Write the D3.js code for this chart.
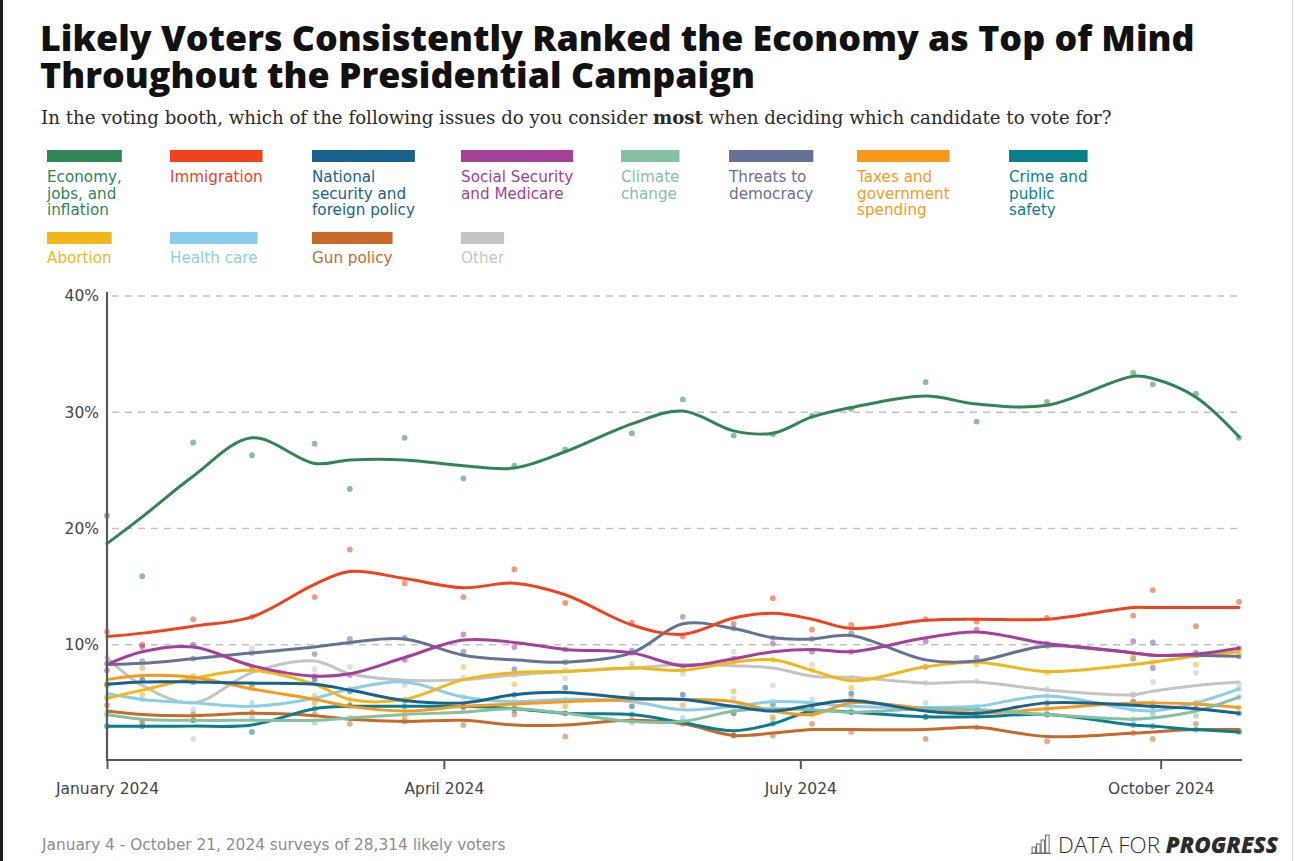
<!DOCTYPE html>
<html>
<head>
<meta charset="utf-8">
<script src="https://cdn.jsdelivr.net/npm/d3@7"></script>
<style>
  html, body { margin: 0; padding: 0; background: #ffffff; }
  svg { display: block; font-family: "DejaVu Sans", "Open Sans", sans-serif; }
</style>
</head>
<body>
<svg id="chart" width="1295" height="861"></svg>
<script>
// ---- Survey field dates (one per wave) ----
const surveyDates = ["2024-01-06","2024-01-15","2024-01-28","2024-02-12","2024-02-28","2024-03-08",
  "2024-03-22","2024-04-06","2024-04-19","2024-05-02","2024-05-19","2024-06-01","2024-06-14",
  "2024-06-24","2024-07-04","2024-07-14","2024-08-02","2024-08-15","2024-09-02","2024-09-24",
  "2024-09-29","2024-10-10","2024-10-21"];

// ---- Issue categories and colours ----
const categories = ["Economy, jobs, and inflation","Immigration","National security and foreign policy",
  "Social Security and Medicare","Climate change","Threats to democracy","Taxes and government spending",
  "Crime and public safety","Abortion","Health care","Gun policy","Other"];
const categoryColors = ["#2f8553","#f0421c","#17638d","#a4409a","#85c0a0","#667196","#f8991d",
  "#0a7f8c","#f1b719","#8acdea","#c8692a","#c4c4c4"];
const legendLines = [["Economy,","jobs, and","inflation"],["Immigration"],["National","security and","foreign policy"],
  ["Social Security","and Medicare"],["Climate","change"],["Threats to","democracy"],
  ["Taxes and","government","spending"],["Crime and","public","safety"],["Abortion"],["Health care"],
  ["Gun policy"],["Other"]];

// ---- Smoothed trend (%) at each survey date ----
const economyTrend     = [18.7,21.0,24.5,27.8,25.6,25.9,25.9,25.4,25.2,26.6,29.0,30.1,28.4,28.2,29.6,30.4,31.4,30.7,30.6,33.1,32.9,31.3,27.9];
const immigrationTrend = [10.7,11.0,11.6,12.4,15.2,16.3,15.7,14.9,15.3,14.3,11.7,10.9,12.3,12.7,12.2,11.4,12.1,12.2,12.2,13.2,13.2,13.2,13.2];
const natsecTrend      = [6.6,6.8,6.8,6.7,6.6,6.1,5.2,5.0,5.7,5.9,5.4,5.3,4.7,4.3,4.8,5.2,4.3,4.1,5.0,4.8,4.7,4.5,4.1];
const socsecTrend      = [8.3,9.4,9.8,8.2,7.3,7.5,8.9,10.4,10.2,9.6,9.3,8.2,8.8,9.4,9.6,9.4,10.6,11.1,10.1,9.3,9.1,9.2,9.7];
const climateTrend     = [4.0,3.6,3.5,3.5,3.5,3.7,4.0,4.2,4.5,4.1,3.4,3.4,4.3,4.5,4.4,4.2,4.5,4.4,4.0,3.6,3.7,4.3,5.5];
const threatsTrend     = [8.3,8.4,8.8,9.3,9.8,10.2,10.5,9.1,8.7,8.5,9.3,11.8,11.4,10.6,10.5,10.8,8.7,8.6,9.9,9.3,9.1,9.1,9.0];
const taxesTrend       = [7.0,7.35,7.2,6.2,5.3,4.7,4.3,4.7,4.9,5.1,5.3,5.3,5.1,4.3,4.0,5.0,4.5,4.1,4.5,5.0,5.0,4.9,4.6];
const crimeTrend       = [3.0,3.0,3.0,3.1,4.5,4.7,4.7,4.7,4.5,4.1,4.0,3.3,2.6,3.2,4.3,4.2,3.8,3.8,4.0,3.1,3.0,2.7,2.5];
const abortionTrend    = [5.4,6.1,7.1,7.8,6.6,5.3,5.3,7.0,7.6,7.7,8.0,7.8,8.5,8.7,7.8,6.9,8.1,8.5,7.7,8.3,8.5,9.0,9.4];
const healthTrend      = [5.8,5.3,5.0,4.7,5.4,6.2,6.8,5.5,5.1,5.3,5.1,4.4,4.7,5.1,5.0,4.7,4.6,4.7,5.6,4.4,4.3,5.0,6.2];
const gunTrend         = [4.3,4.0,3.9,4.1,3.9,3.6,3.4,3.5,3.1,3.1,3.5,3.2,2.2,2.4,2.7,2.7,2.7,2.9,2.1,2.4,2.5,2.7,2.7];
const otherTrend       = [8.9,6.5,5.0,7.6,8.6,7.5,6.95,7.0,7.4,7.7,8.0,8.3,8.2,8.0,7.3,7.2,6.7,6.8,6.1,5.7,6.0,6.5,6.8];

// ---- Individual survey results (%) ----
const economyPolls     = [21.1,15.9,27.4,26.3,27.3,23.4,27.8,24.3,25.4,26.8,28.2,31.1,28.0,28.1,29.7,30.3,32.6,29.2,30.9,33.4,32.4,31.6,27.8];
const immigrationPolls = [11.1,10.0,12.2,12.4,14.1,18.2,15.3,14.1,16.5,13.6,11.9,10.7,11.8,14.0,11.3,11.7,12.2,12.0,12.3,12.5,14.7,11.6,13.7];
const natsecPolls      = [6.6,7.0,6.8,6.6,7.0,6.0,5.2,4.7,5.7,6.3,4.7,5.7,4.1,4.9,4.8,5.8,3.8,4.5,5.0,5.1,4.7,4.5,4.1];
const socsecPolls      = [7.8,9.8,10.0,8.1,7.3,7.4,8.7,10.9,9.8,9.6,9.5,8.2,8.8,10.1,9.4,9.4,10.3,11.3,10.1,10.3,8.0,9.3,9.7];
const climatePolls     = [4.0,3.5,3.5,3.8,3.3,3.7,4.0,4.4,4.3,4.1,3.3,3.4,4.3,3.6,4.4,4.2,4.5,4.4,4.0,3.6,4.0,3.9,5.5];
const threatsPolls     = [8.4,8.6,8.8,9.3,9.2,10.5,10.6,9.4,7.9,8.5,9.3,12.4,11.4,10.6,10.5,11.0,8.1,8.9,9.9,8.8,10.2,9.1,9.0];
const taxesPolls       = [6.5,8.0,7.3,6.3,5.0,4.7,3.7,4.7,4.9,4.7,5.5,4.8,6.0,3.8,4.0,5.4,4.5,4.1,4.5,5.7,5.0,5.0,4.6];
const crimePolls       = [3.0,3.0,3.5,2.5,4.5,4.8,4.7,4.7,4.5,4.1,4.0,3.3,2.2,3.2,4.3,4.2,3.8,3.9,4.0,3.1,3.0,2.7,2.5];
const abortionPolls    = [5.4,5.7,7.1,7.8,5.6,5.3,5.3,8.1,6.6,7.8,8.1,7.8,8.5,8.7,7.8,6.3,8.1,8.3,7.6,9.0,8.5,8.3,9.3];
const healthPolls      = [5.5,5.3,4.4,5.0,5.3,6.2,6.8,5.5,5.1,5.3,5.8,3.7,5.4,5.1,5.3,4.7,5.0,4.7,5.6,4.4,4.3,5.0,6.2];
const gunPolls         = [4.8,3.3,4.0,4.2,4.0,3.2,3.4,3.1,4.0,2.1,3.5,3.2,2.2,2.2,3.2,2.5,1.9,2.9,1.7,2.4,1.9,3.2,2.6];
const otherPolls       = [8.9,8.4,1.9,9.7,7.9,8.1,6.5,7.2,7.4,7.1,8.4,7.5,9.4,6.5,8.3,7.2,6.7,6.9,6.2,5.7,6.8,7.6,6.6];

// ---- Axis ticks ----
const xTickDates  = ["2024-01-06","2024-04-01","2024-07-01","2024-10-01"];
const xTickLabels = ["January 2024","April 2024","July 2024","October 2024"];
const yTickValues = [10,20,30,40];

// ---- Text ----
const titleLines = ["Likely Voters Consistently Ranked the Economy as Top of Mind",
                    "Throughout the Presidential Campaign"];
const subtitleParts = [
  {t:"In the voting booth, which of the following issues do you consider ", b:false},
  {t:"most", b:true},
  {t:" when deciding which candidate to vote for?", b:false}];
const footnote = "January 4 - October 21, 2024 surveys of 28,314 likely voters";

// ---------------------------------------------------------------
const parse = d3.timeParse("%Y-%m-%d");
const dates = surveyDates.map(parse);

const trends = [economyTrend, immigrationTrend, natsecTrend, socsecTrend, climateTrend, threatsTrend,
  taxesTrend, crimeTrend, abortionTrend, healthTrend, gunTrend, otherTrend];
const polls = [economyPolls, immigrationPolls, natsecPolls, socsecPolls, climatePolls, threatsPolls,
  taxesPolls, crimePolls, abortionPolls, healthPolls, gunPolls, otherPolls];

const series = categories.map((name, i) => ({
  name, color: categoryColors[i], lines: legendLines[i],
  trend: trends[i].map((v, j) => ({date: dates[j], v})),
  polls: polls[i].map((v, j) => ({date: dates[j], v}))
}));

const svg = d3.select("#chart");

// Scale a text element's font size so its rendered width hits a target
function fitWidth(sel, base, target) {
  const w = sel.node().getComputedTextLength();
  const fs = base * target / w;
  sel.attr("font-size", fs);
  return fs;
}

// Page frame edges
svg.append("rect").attr("x", 0).attr("y", 0).attr("width", 3).attr("height", 861).attr("fill", "#1e1e1e");
svg.append("rect").attr("x", 1292).attr("y", 0).attr("width", 1).attr("height", 861).attr("fill", "#d6d6d6");

// ---- Title ----
const title = svg.append("g").attr("fill", "#111").attr("font-family", "'Open Sans', sans-serif");
const t1 = title.append("text").attr("x", 40).attr("y", 51)
  .attr("font-size", 36).attr("font-weight", 800).text(titleLines[0]);
const titleSize = fitWidth(t1, 36, 1155);
title.append("text").attr("x", 40).attr("y", 88)
  .attr("font-size", titleSize).attr("font-weight", 800).text(titleLines[1]);

// ---- Subtitle ----
const sub = svg.append("text").attr("x", 41).attr("y", 124)
  .attr("font-family", "'DejaVu Serif', 'Liberation Serif', serif").attr("font-size", 18).attr("fill", "#2a2a2a");
subtitleParts.forEach(p => sub.append("tspan").attr("font-weight", p.b ? 700 : 400).text(p.t));
fitWidth(sub, 18, 1071);

// ---- Legend ----
const legendCols = [47, 170, 312, 461, 621, 729, 857, 1009];
const legendRows = [{swatchY: 150, textY: 182}, {swatchY: 232, textY: 263}];
const legendFont = 15.2, legendLead = 16.5;
const legend = svg.append("g").attr("class", "legend");
series.forEach((s, i) => {
  const row = i < 8 ? 0 : 1;
  const col = i < 8 ? i : i - 8;
  const g = legend.append("g").attr("transform", `translate(${legendCols[col]},0)`);
  let maxW = 0;
  s.lines.forEach((ln, k) => {
    const t = g.append("text").attr("x", 0).attr("y", legendRows[row].textY + k * legendLead)
      .attr("font-size", legendFont).attr("fill", s.color).text(ln);
    maxW = Math.max(maxW, t.node().getComputedTextLength());
  });
  g.insert("rect", "text").attr("x", 0).attr("y", legendRows[row].swatchY)
    .attr("width", maxW).attr("height", 12).attr("fill", s.color);
});

// ---- Scales ----
const plot = {left: 107, right: 1239, top: 296, bottom: 761};
const x = d3.scaleTime().domain(d3.extent(dates)).range([plot.left, plot.right]);
const y = d3.scaleLinear().domain([0, 40]).range([plot.bottom, plot.top]);

// Gridlines
svg.append("g").selectAll("line").data(yTickValues).join("line")
  .attr("x1", plot.left + 5).attr("x2", plot.right)
  .attr("y1", d => y(d)).attr("y2", d => y(d))
  .attr("stroke", "#c2c2c2").attr("stroke-width", 1.3).attr("stroke-dasharray", "7,6");

// Survey dots
const dotLayer = svg.append("g");
series.forEach(s => {
  dotLayer.append("g").selectAll("circle").data(s.polls).join("circle")
    .attr("cx", d => x(d.date)).attr("cy", d => y(d.v)).attr("r", 2.9)
    .attr("fill", s.color).attr("fill-opacity", 0.55);
});

// Trend lines (legend order reversed so the economy sits on top)
const line = d3.line().x(d => x(d.date)).y(d => y(d.v)).curve(d3.curveCatmullRom.alpha(0.5));
const lineLayer = svg.append("g");
series.slice().reverse().forEach(s => {
  lineLayer.append("path").datum(s.trend).attr("d", line)
    .attr("fill", "none").attr("stroke", s.color).attr("stroke-width", 3)
    .attr("stroke-linejoin", "round").attr("stroke-linecap", "round");
});

// ---- Axes ----
const xAxis = d3.axisBottom(x).tickValues(xTickDates.map(parse))
  .tickFormat((d, i) => xTickLabels[i]).tickSize(9).tickSizeOuter(0).tickPadding(14);
const gx = svg.append("g").attr("transform", `translate(0,${plot.bottom - 1})`).call(xAxis);
gx.select(".domain").attr("stroke", "#595959").attr("stroke-width", 2.2)
  .attr("d", `M${plot.left - 1},0H${plot.right + 3}`);
gx.selectAll(".tick line").attr("stroke", "#595959").attr("stroke-width", 2);
gx.selectAll(".tick text").attr("font-size", 15.5).attr("fill", "#444")
  .attr("font-family", "'DejaVu Sans', sans-serif");

const yAxis = d3.axisLeft(y).tickValues(yTickValues).tickFormat(d => d + "%").tickSize(0).tickPadding(8);
const gy = svg.append("g").attr("transform", `translate(${plot.left},0)`).call(yAxis);
gy.select(".domain").attr("stroke", "#595959").attr("stroke-width", 2.2)
  .attr("d", `M0,${plot.top - 4}V${plot.bottom}`);
gy.selectAll(".tick text").attr("font-size", 15.5).attr("fill", "#444")
  .attr("font-family", "'DejaVu Sans', sans-serif");

// ---- Footer ----
const foot = svg.append("text").attr("x", 42).attr("y", 850).attr("font-size", 15)
  .attr("fill", "#8c8c8c").text(footnote);
fitWidth(foot, 15, 464);

const logo = svg.append("g").attr("font-family", "'Open Sans', sans-serif");
const brand = logo.append("text").attr("x", 1278).attr("y", 853).attr("text-anchor", "end")
  .attr("font-size", 22).attr("fill", "#2b2b2b");
brand.append("tspan").attr("font-weight", 300).text("DATA FOR ");
brand.append("tspan").attr("font-weight", 800).attr("font-style", "italic").text("PROGRESS");
const bw = fitWidth(brand, 22, 220) && brand.node().getComputedTextLength();
const iconX = 1278 - bw - 26;
const iconBars = [6, 9, 13, 18];
iconBars.forEach((h, i) => {
  logo.append("rect").attr("x", iconX + i * 4.5).attr("y", 853 - h).attr("width", 3.5).attr("height", h)
    .attr("fill", "none").attr("stroke", "#6a6a6a").attr("stroke-width", 1);
});
logo.append("line").attr("x1", iconX - 1).attr("x2", iconX + 19).attr("y1", 853.5).attr("y2", 853.5)
  .attr("stroke", "#6a6a6a").attr("stroke-width", 1);
</script>
</body>
</html>
